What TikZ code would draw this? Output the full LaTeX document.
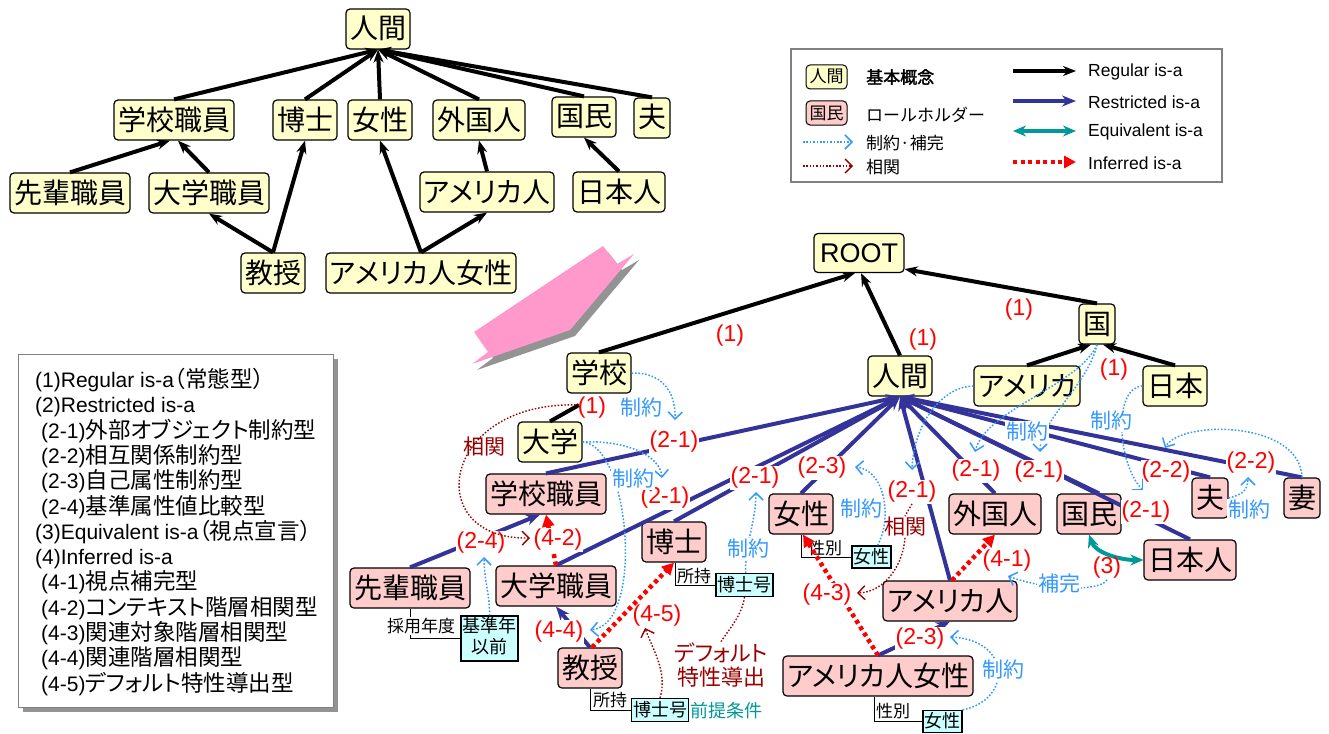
\documentclass[tikz,border=0pt]{standalone}
\usepackage{fontspec}
\setmainfont{Liberation Sans}
\newfontfamily\jp{Noto Sans CJK JP}
\newfontfamily\jpp[RawFeature=+palt]{Noto Sans CJK JP}
\newfontfamily\jpbold[FakeBold=2]{Noto Sans CJK JP}
\usetikzlibrary{arrows.meta}
\definecolor{cYel}{HTML}{FFFFCC}
\definecolor{cPink}{HTML}{FFCCCC}
\definecolor{cNavy}{HTML}{333399}
\definecolor{cTeal}{HTML}{009999}
\definecolor{cBlue}{HTML}{3399FF}
\definecolor{cDred}{HTML}{990000}
\definecolor{cCyan}{HTML}{CCFFFF}
\definecolor{cPinkA}{HTML}{FF99CC}
\definecolor{cGray}{HTML}{808080}
\newcommand\lstf{\fontsize{21}{24}\selectfont}
\newcommand\lj[1]{{\jpp\fontsize{22.5}{24}\selectfont #1}}
\begin{document}
\begin{tikzpicture}[x=1pt,y=-1pt,
 yel/.style={draw=black, line width=1.2pt, rounded corners=4pt, fill=cYel, inner xsep=4pt, inner ysep=0pt, minimum height=40pt, text height=23pt, text depth=3pt, font=\jpp\fontsize{28}{30}\selectfont},
 pnk/.style={yel, fill=cPink},
 reg/.style={draw=black, line width=4pt, -{Stealth[length=13pt,width=10pt]}},
 rst/.style={draw=cNavy, line width=4pt, -{Stealth[length=14pt,width=11pt]}},
 inf/.style={draw=red, line width=4.5pt, dash pattern=on 4pt off 3.5pt, -{Triangle[length=12pt,width=12pt]}},
 cons/.style={draw=cBlue, line width=1.5pt, dash pattern=on 1.6pt off 1.8pt, -{Straight Barb[length=7pt,width=14pt]}},
 corr/.style={draw=cDred, line width=1.4pt, dash pattern=on 1.5pt off 1.8pt, -{Straight Barb[length=7pt,width=14pt]}},
 eqv/.style={draw=cTeal, line width=4pt, {Stealth[length=13pt,width=11pt]}-{Stealth[length=13pt,width=11pt]}},
 lbl/.style={text=red, font=\fontsize{23}{24}\selectfont, inner sep=1pt},
 lblw/.style={lbl, fill=white},
 ctxt/.style={text=cBlue, font=\jp\fontsize{21}{22}\selectfont, inner sep=1pt, fill=white},
 rtxt/.style={text=cDred, font=\jp\fontsize{21}{22}\selectfont, inner sep=1pt},
 attr/.style={font=\jp\fontsize{17}{18}\selectfont, inner sep=1pt},
 cyb/.style={draw=black, line width=1.2pt, fill=cCyan, font=\jp\fontsize{18}{21}\selectfont, inner xsep=1.5pt, inner ysep=0pt, minimum height=23pt, text height=15pt, text depth=3pt},
 aline/.style={draw=black, line width=1pt},
 lgt/.style={anchor=west, font=\fontsize{17.5}{18}\selectfont, inner sep=0pt},
 lgj/.style={anchor=west, font=\jp\fontsize{17}{18}\selectfont, inner sep=0pt},
 lst/.style={anchor=base west, font=\lstf, inner sep=0pt}
]
\useasboundingbox (0,0) rectangle (1329,733);

% ---------------- pink block arrow ----------------
\begin{scope}[shift={(5,6)}]
\fill[cGray!85] (474,332) -- (603,246) -- (617,264) -- (634,254) -- (570,330) -- (472,364) -- (488,352) -- cycle;
\end{scope}
\fill[cPinkA] (474,332) -- (603,246) -- (617,264) -- (634,254) -- (570,330) -- (472,364) -- (488,352) -- cycle;

% ---------------- top-left tree ----------------
\node[yel] (tNG) at (378,29) {人間};
\node[yel] (tGS) at (174,120) {学校職員};
\node[yel] (tHK) at (305,120) {博士};
\node[yel] (tJS) at (380,120) {女性};
\node[yel] (tGK) at (479,120) {外国人};
\node[yel] (tKM) at (584,117) {国民};
\node[yel] (tOT) at (652,118) {夫};
\node[yel] (tSP) at (70,193) {先輩職員};
\node[yel] (tDS) at (209,193) {大学職員};
\node[yel] (tAJ) at (487,192) {アメリカ人};
\node[yel] (tNJ) at (619,192) {日本人};
\node[yel] (tKJ) at (273,273) {教授};
\node[yel] (tAJJ) at (421,273) {アメリカ人女性};

\draw[reg] (tGS.north) -- (tNG.south);
\draw[reg] (tHK.north) -- (tNG.south);
\draw[reg] (tJS.north) -- (tNG.south);
\draw[reg] (tGK.north) -- (tNG.south);
\draw[reg] (tKM.north) -- (tNG.south);
\draw[reg] (tOT.north) -- (tNG.south);
\draw[reg] (tSP.north) -- ([xshift=-4pt]tGS.south);
\draw[reg] (tDS.north) -- ([xshift=4pt]tGS.south);
\draw[reg] (tKJ.north) -- (tDS.south);
\draw[reg] (tKJ.north) -- (tHK.south);
\draw[reg] (tAJJ.north) -- (tJS.south);
\draw[reg] (tAJJ.north) -- (tAJ.south);
\draw[reg] (tAJ.north) -- (tGK.south);
\draw[reg] (tNJ.north) -- (tKM.south);

% ---------------- legend ----------------
\draw[cGray, line width=1.2pt, fill=white] (791,49) rectangle (1222,182);
\node[yel, font=\jpp\fontsize{17}{18}\selectfont, minimum height=24pt, text height=14pt, text depth=2pt, inner xsep=3.5pt, line width=1pt] (lgY) at (826.5,77) {人間};
\node[lgj, font=\jpbold\fontsize{17}{18}\selectfont] (lgYt) at (866,77) {基本概念};
\node[pnk, font=\jpp\fontsize{17}{18}\selectfont, minimum height=24pt, text height=14pt, text depth=2pt, inner xsep=3.5pt, line width=1pt] (lgP) at (826.5,113) {国民};
\node[lgj] (lgPt) at (866,115) {ロールホルダー};
\coordinate (lgC1) at (803,142); \coordinate (lgC2) at (853,142);
\draw[cons] (lgC1) -- (lgC2);
\node[lgj] (lgCt) at (866,143) {制約·補完};
\coordinate (lgD1) at (803,166); \coordinate (lgD2) at (853,166);
\draw[corr] (lgD1) -- (lgD2);
\node[lgj] (lgDt) at (866,167) {相関};
\coordinate (lgR1) at (1013,71); \coordinate (lgR2) at (1076,71);
\draw[reg] (lgR1) -- (lgR2);
\node[lgt] (lgRt) at (1088,72) {Regular is-a};
\coordinate (lgS1) at (1013,101); \coordinate (lgS2) at (1076,101);
\draw[rst] (lgS1) -- (lgS2);
\node[lgt] (lgSt) at (1088,102) {Restricted is-a};
\coordinate (lgE1) at (1013,131); \coordinate (lgE2) at (1076,131);
\draw[eqv] (lgE1) -- (lgE2);
\node[lgt] (lgEt) at (1088,132) {Equivalent is-a};
\coordinate (lgI1) at (1013,162); \coordinate (lgI2) at (1076,162);
\draw[inf] (lgI1) -- (lgI2);
\node[lgt] (lgIt) at (1088,163) {Inferred is-a};

% ---------------- list box ----------------
\fill[cGray!85] (23,359) rectangle (338,712);
\draw[cGray, line width=1pt, fill=white] (18,354) rectangle (333,707);
\node[lst] (l1) at (35,387.5) {(1)Regular is-a\lj{（常態型）}};
\node[lst] (l2) at (35,412.8) {(2)Restricted is-a};
\node[lst] (l3) at (41,438.1) {(2-1)\lj{外部オブジェクト制約型}};
\node[lst] (l4) at (41,463.4) {(2-2)\lj{相互関係制約型}};
\node[lst] (l5) at (41,488.7) {(2-3)\lj{自己属性制約型}};
\node[lst] (l6) at (41,514.0) {(2-4)\lj{基準属性値比較型}};
\node[lst] (l7) at (35,539.3) {(3)Equivalent is-a\lj{（視点宣言）}};
\node[lst] (l8) at (35,564.6) {(4)Inferred is-a};
\node[lst] (l9) at (41,589.9) {(4-1)\lj{視点補完型}};
\node[lst] (l10) at (41,615.2) {(4-2)\lj{コンテキスト階層相関型}};
\node[lst] (l11) at (41,640.5) {(4-3)\lj{関連対象階層相関型}};
\node[lst] (l12) at (41,665.8) {(4-4)\lj{関連階層相関型}};
\node[lst] (l13) at (41,691.1) {(4-5)\lj{デフォルト特性導出型}};

% ---------------- main diagram nodes ----------------
\node[yel, font=\fontsize{27}{30}\selectfont, inner xsep=6pt, text height=19.5pt, text depth=0pt, minimum height=39pt] (ROOT) at (859,253) {ROOT};
\node[yel] (mGK) at (599,373) {学校};
\node[yel] (mDG) at (550,442) {大学};
\node[yel] (mNG) at (900,376) {人間};
\node[yel] (mKU) at (1097,324) {国};
\node[yel] (mAM) at (1027,386) {アメリカ};
\node[yel] (mNH) at (1175,386) {日本};
\node[pnk] (mGS) at (546,494) {学校職員};
\node[pnk] (mSP) at (410,588) {先輩職員};
\node[pnk] (mDS) at (556,586) {大学職員};
\node[pnk] (mHK) at (674,542) {博士};
\node[pnk] (mKJ) at (590,668) {教授};
\node[pnk] (mJS) at (801,514) {女性};
\node[pnk] (mGJ) at (995,514) {外国人};
\node[pnk] (mKM) at (1089,514) {国民};
\node[pnk] (mOT) at (1210,498) {夫};
\node[pnk] (mTM) at (1302,498) {妻};
\node[pnk] (mNJ) at (1190,560) {日本人};
\node[pnk] (mAJ) at (950,601) {アメリカ人};
\node[pnk] (mAJJ) at (878,676) {アメリカ人女性};

% attribute boxes
\node[cyb, align=center, minimum height=45pt, text height=34pt, text depth=4pt, font=\jp\fontsize{18}{21}\selectfont] (Ckj) at (489.5,638.5) {基準年\\以前};
\node[cyb] (Chb2) at (660,710) {博士号};
\node[cyb] (Chb1) at (744.5,585) {博士号};
\node[cyb, minimum height=22pt] (Cjs1) at (871.5,557) {女性};
\node[cyb, minimum height=22pt] (Cjs2) at (942.5,721.5) {女性};
\draw[aline] (mSP.south) |- (Ckj.west);
\draw[aline] (mKJ.south) |- (Chb2.west);
\draw[aline] ([xshift=1pt]mHK.south) |- (Chb1.west);
\draw[aline] (mJS.south) |- (Cjs1.west);
\draw[aline] ([xshift=-4pt]mAJJ.south) |- (Cjs2.west);
\node[attr, fill=white] (Asp) at (421,626) {採用年度};
\node[attr] (Akj) at (610,700) {所持};
\node[attr] (Ahk) at (694,576) {所持};
\node[attr] (Ajs1) at (825,548) {性別};
\node[attr] (Ajs2) at (893,711) {性別};
\node[anchor=west, text=cTeal, font=\jp\fontsize{18}{20}\selectfont, inner sep=0pt] (Pre) at (690,711) {前提条件};

% ---------------- regular is-a ----------------
\coordinate (kdg) at (579,405);
\draw[reg] (mGK.north) -- ([xshift=-4pt]ROOT.south);
\draw[reg] (mNG.north) -- ([xshift=2pt]ROOT.south);
\draw[reg] (mKU.north) -- ([yshift=4pt]ROOT.south east);
\draw[reg] (mAM.north) -- ([xshift=-6pt]mKU.south);
\draw[reg] (mNH.north) -- ([xshift=6pt]mKU.south);
\draw[reg,-] (mDG.north) -- (kdg);

% ---------------- restricted is-a ----------------
\draw[rst] (mGS.north) -- (mNG.south);
\draw[rst] (mDS.north) -- (mNG.south);
\draw[rst] (mHK.north) -- (mNG.south);
\draw[rst] (mJS.north) -- (mNG.south);
\draw[rst] (mAJ.north) -- (mNG.south);
\draw[rst] (mGJ.north) -- (mNG.south);
\draw[rst] ([xshift=10pt]mKM.north) -- (mNG.south);
\draw[rst] (mNJ.north) -- (mNG.south);
\draw[rst] (mOT.north) -- (mNG.south);
\draw[rst] (mTM.north) -- (mNG.south);
\draw[rst] (mSP.north) -- ([xshift=-6pt]mGS.south);
\draw[rst] (mKJ.north) -- (mDS.south);
\draw[rst] (mAJJ.north) -- (mAJ.south);

% ---------------- inferred is-a ----------------
\draw[inf] (mDS.north) -- (mGS.south);
\draw[inf] ([xshift=2pt]mKJ.north) -- (mHK.south);
\draw[inf] ([xshift=2pt]mAJ.north) -- (mGJ.south);
\draw[inf] (mAJJ.north) -- ([xshift=2pt]mJS.south);

% ---------------- equivalent ----------------
\draw[eqv] (mKM.south) .. controls (1095,552) and (1118,560) .. (mNJ.west);

% ---------------- labels ----------------
\node[lbl] (La1) at (730,336) {(1)};
\node[lbl] (La2) at (923,340) {(1)};
\node[lbl] (La3) at (1019,310) {(1)};
\node[lbl] (La4) at (1114,370) {(1)};
\node[lbl] (La5) at (592,408) {(1)};
\node[lblw] (Lgs) at (674,442) {(2-1)};
\node[lblw] (Lds) at (665,498) {(2-1)};
\node[lblw] (Lhk) at (755,478) {(2-1)};
\node[lblw] (Ljs) at (822,468) {(2-3)};
\node[lblw] (Lam) at (912,492) {(2-1)};
\node[lblw] (Lgj) at (976,471) {(2-1)};
\node[lblw] (Lkm) at (1039,472) {(2-1)};
\node[lblw] (Lnj) at (1146,512) {(2-1)};
\node[lblw] (Lot) at (1166,472) {(2-2)};
\node[lblw] (Ltm) at (1251,463) {(2-2)};
\node[lblw] (Lsp) at (481,543) {(2-4)};
\node[lblw] (Lkj) at (559,632) {(4-4)};
\node[lblw] (L42) at (558,540) {(4-2)};
\node[lblw] (Lajj) at (920,639) {(2-3)};
\node[lblw] (L43) at (827,595) {(4-3)};
\node[lbl] (L45) at (657,616) {(4-5)};
\node[lbl] (L41) at (1007,561) {(4-1)};
\node[lbl] (L3) at (1107,568) {(3)};

% ---------------- constraint (blue dotted) ----------------
\coordinate (tA) at (675,420);
\coordinate (tB) at (662,478);
\coordinate (tC) at (590,630);
\coordinate (tD) at (756,492);
\coordinate (tE) at (484,557);
\coordinate (tF) at (855,467);
\coordinate (tG) at (950,637);
\coordinate (tH) at (1008,576);
\coordinate (tI) at (912,470);
\coordinate (tJ) at (975,452);
\coordinate (tK) at (1040,452);
\coordinate (tL) at (1143,490);
\coordinate (tM) at (1165,448);
\coordinate (tN) at (1248,477);
\draw[cons] (mGK.east) .. controls (660,372) and (676,390) .. (tA);
\draw[cons] (mDG.east) .. controls (625,440) and (660,455) .. (tB);
\draw[cons] (mDG.east) .. controls (630,445) and (645,625) .. (tC);
\draw[cons] ([xshift=1pt]Chb1.north) .. controls (745,545) and (756,520) .. (tD);
\draw[cons] (Ckj.north) .. controls (490,595) and (484,580) .. (tE);
\draw[cons] ([xshift=6pt]Cjs1.north) .. controls (892,520) and (886,470) .. (tF);
\draw[cons] (Cjs2.north east) .. controls (1012,700) and (1012,640) .. (tG);
\draw[cons] (L3.south) .. controls (1100,592) and (1045,590) .. (tH);
\draw[cons] (mAM.west) .. controls (945,386) and (914,420) .. (tI);
\draw[cons] (mKU.south) .. controls (1080,385) and (985,410) .. (tJ);
\draw[cons] (mKU.south) .. controls (1088,385) and (1040,420) .. (tK);
\draw[cons] (mNH.west) .. controls (1112,388) and (1118,465) .. (tL);
\draw[cons] (mTM.north) .. controls (1300,420) and (1180,420) .. (tM);
\draw[cons] (mOT.east) .. controls (1240,495) and (1248,492) .. (tN);

\node[ctxt] (C1) at (641,408) {制約};
\node[ctxt] (C2) at (633,479) {制約};
\node[ctxt] (C3) at (748,549) {制約};
\node[ctxt] (C4) at (861,509) {制約};
\node[ctxt] (C5) at (1003,670) {制約};
\node[ctxt] (C6) at (1027,432) {制約};
\node[ctxt] (C7) at (1111,421) {制約};
\node[ctxt] (C8) at (1249,510) {制約};
\node[ctxt] (C9) at (1059,584) {補完};

% ---------------- correlation (dark red dotted) ----------------
\node[rtxt] (R1) at (484,447) {相関};
\node[rtxt] (R2) at (905,527) {相関};
\node[rtxt, align=center, font=\jpp\fontsize{22}{24}\selectfont] (Def) at (721,665) {デフォルト\\特性導出};
\coordinate (tO) at (530,538);
\coordinate (tP) at (857,593);
\coordinate (tQ) at (645,628);
\draw[corr] (kdg) .. controls (440,400) and (420,540) .. (tO);
\draw[corr,-] (Lam.south) -- (R2.north);
\draw[corr] (R2.south) .. controls (903,565) and (885,592) .. (tP);
\draw[corr,-] (Chb1.south) .. controls (742,615) and (730,628) .. (Def.north);
\draw[corr] (Chb2.north) .. controls (668,672) and (652,648) .. (tQ);

\end{tikzpicture}
\end{document}
